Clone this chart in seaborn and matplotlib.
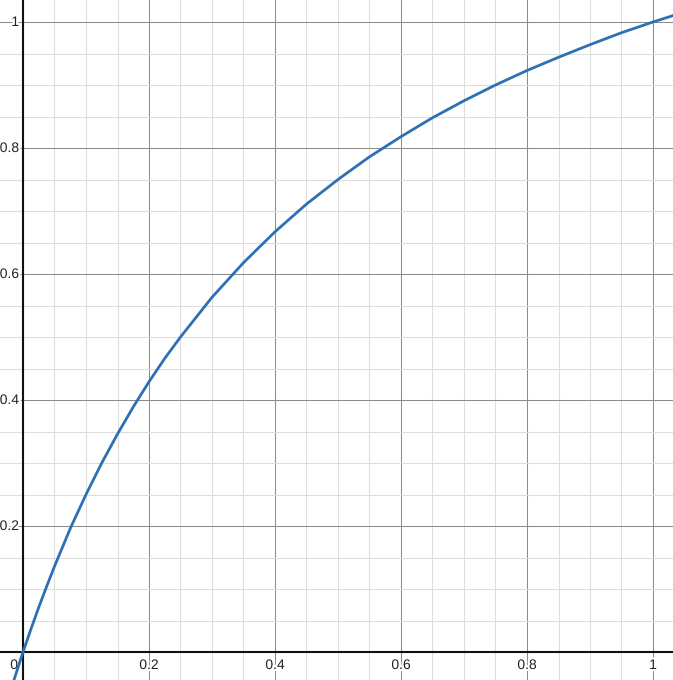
import numpy as np
import pandas as pd
import matplotlib
matplotlib.use('AGG')
from matplotlib import pyplot as plt
import matplotlib.patheffects as pe
import seaborn as sns

# Curve values
x_vals = [-0.02, -0.01, 0.0, 0.0125, 0.025, 0.0375, 0.05, 0.075, 0.1, 0.125,
          0.15, 0.175, 0.2, 0.225, 0.25, 0.3, 0.35, 0.4, 0.45, 0.5,
          0.55, 0.6, 0.65, 0.7, 0.75, 0.8, 0.85, 0.9, 0.95, 1.0, 1.05]
y_vals = [-0.062, -0.031, 0.0, 0.036, 0.071, 0.104, 0.136, 0.196, 0.250, 0.300,
          0.346, 0.389, 0.429, 0.466, 0.500, 0.563, 0.618, 0.667, 0.711, 0.750,
          0.786, 0.818, 0.848, 0.875, 0.900, 0.923, 0.944, 0.964, 0.983, 1.000, 1.016]

# Tick labels
x_ticks = [0.2, 0.4, 0.6, 0.8, 1.0]
x_labels = ['0.2', '0.4', '0.6', '0.8', '1']
y_ticks = [0.2, 0.4, 0.6, 0.8, 1.0]
y_labels = ['0.2', '0.4', '0.6', '0.8', '1']

df = pd.DataFrame({'x': x_vals, 'y': y_vals})

sns.set_style('white')
plt.rcParams['font.family'] = ['Liberation Sans', 'DejaVu Sans']

fig = plt.figure(figsize=(6.73, 6.80), dpi=100)
ax = fig.add_axes([0, 0, 1, 1])

# grid
ax.set_xticks(np.arange(0, 1.01, 0.2))
ax.set_yticks(np.arange(0, 1.01, 0.2))
ax.set_xticks(np.arange(0, 1.06, 0.05), minor=True)
ax.set_yticks(np.arange(0, 1.06, 0.05), minor=True)
ax.grid(which='minor', color='#dddddd', lw=0.75, zorder=0)
ax.grid(which='major', color='#8c8c8c', lw=0.75, zorder=1)
ax.tick_params(which='both', length=0, labelbottom=False, labelleft=False)
for s in ax.spines.values():
    s.set_visible(False)

# axes
ax.axhline(0, color='#111111', lw=1.5, zorder=2)
ax.axvline(0, color='#111111', lw=1.5, zorder=2)

sns.lineplot(data=df, x='x', y='y', ax=ax, color='#2d70b3', lw=2.0,
             zorder=5, sort=False)
ax.set_xlabel('')
ax.set_ylabel('')

# limits last so the tick setters do not widen them
ax.set_xlim(-23 / 630, 650 / 630)
ax.set_ylim(-28 / 630, 1 + 22 / 630)

halo = [pe.withStroke(linewidth=3, foreground='white')]
for v, lab in zip(x_ticks, x_labels):
    ax.annotate(lab, (v, 0), xytext=(0, -6), textcoords='offset pixels',
                ha='center', va='top', fontsize=10, color='#222222',
                path_effects=halo, zorder=4)
for v, lab in zip(y_ticks, y_labels):
    ax.annotate(lab, (0, v), xytext=(-4, 0), textcoords='offset pixels',
                ha='right', va='center', fontsize=10, color='#222222',
                path_effects=halo, zorder=4)
ax.annotate('0', (0, 0), xytext=(-5, -6), textcoords='offset pixels',
            ha='right', va='top', fontsize=10, color='#222222',
            path_effects=halo, zorder=4)

plt.savefig('out.png', dpi=100)
